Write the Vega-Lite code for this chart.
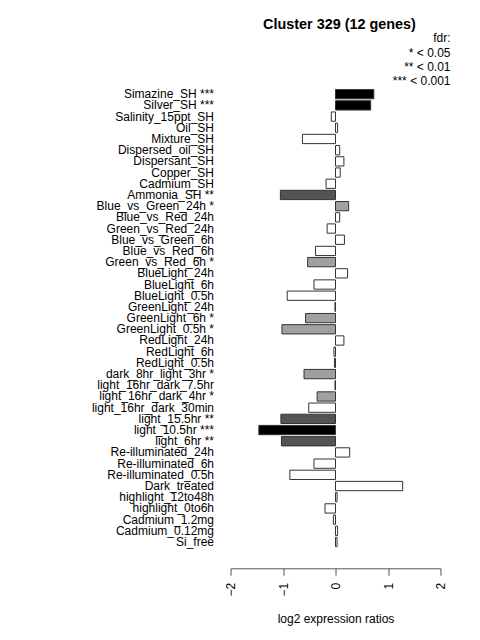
{
  "$schema": "https://vega.github.io/schema/vega-lite/v6.json",
  "autosize": "none",
  "width": 210,
  "height": 459,
  "padding": {"left": 230.5, "top": 88.6, "right": 39.5, "bottom": 92.4},
  "background": "white",
  "title": {
    "text": "Cluster 329 (12 genes)",
    "font": "Liberation Sans",
    "fontSize": 14.4,
    "fontWeight": "bold",
    "color": "black",
    "anchor": "middle",
    "frame": "group",
    "dx": 4,
    "baseline": "alphabetic",
    "offset": -10
  },
  "config": {
    "view": {"stroke": null},
    "font": "Liberation Sans"
  },
  "data": {
    "values": [
      {"label": "Simazine_SH ***", "sig": "***", "value": 0.73},
      {"label": "Silver_SH ***", "sig": "***", "value": 0.67},
      {"label": "Salinity_15ppt_SH", "sig": "none", "value": -0.08},
      {"label": "Oil_SH", "sig": "none", "value": 0.04},
      {"label": "Mixture_SH", "sig": "none", "value": -0.63},
      {"label": "Dispersed_oil_SH", "sig": "none", "value": 0.08},
      {"label": "Dispersant_SH", "sig": "none", "value": 0.16},
      {"label": "Copper_SH", "sig": "none", "value": 0.09},
      {"label": "Cadmium_SH", "sig": "none", "value": -0.18},
      {"label": "Ammonia_SH **", "sig": "**", "value": -1.05},
      {"label": "Blue_vs_Green_24h *", "sig": "*", "value": 0.25},
      {"label": "Blue_vs_Red_24h", "sig": "none", "value": 0.08},
      {"label": "Green_vs_Red_24h", "sig": "none", "value": -0.16},
      {"label": "Blue_vs_Green_6h", "sig": "none", "value": 0.17},
      {"label": "Blue_vs_Red_6h", "sig": "none", "value": -0.38},
      {"label": "Green_vs_Red_6h *", "sig": "*", "value": -0.53},
      {"label": "BlueLight_24h", "sig": "none", "value": 0.23},
      {"label": "BlueLight_6h", "sig": "none", "value": -0.41},
      {"label": "BlueLight_0.5h", "sig": "none", "value": -0.92},
      {"label": "GreenLight_24h", "sig": "none", "value": -0.01},
      {"label": "GreenLight_6h *", "sig": "*", "value": -0.57},
      {"label": "GreenLight_0.5h *", "sig": "*", "value": -1.02},
      {"label": "RedLight_24h", "sig": "none", "value": 0.16},
      {"label": "RedLight_6h", "sig": "none", "value": -0.03},
      {"label": "RedLight_0.5h", "sig": "none", "value": -0.02},
      {"label": "dark_8hr_light_3hr *", "sig": "*", "value": -0.6},
      {"label": "light_16hr_dark_7.5hr", "sig": "none", "value": -0.01},
      {"label": "light_16hr_dark_4hr *", "sig": "*", "value": -0.35},
      {"label": "light_16hr_dark_30min", "sig": "none", "value": -0.51},
      {"label": "light_15.5hr **", "sig": "**", "value": -1.04},
      {"label": "light_10.5hr ***", "sig": "***", "value": -1.46},
      {"label": "light_6hr **", "sig": "**", "value": -1.03},
      {"label": "Re-illuminated_24h", "sig": "none", "value": 0.27},
      {"label": "Re-illuminated_6h", "sig": "none", "value": -0.41},
      {"label": "Re-illuminated_0.5h", "sig": "none", "value": -0.87},
      {"label": "Dark_treated", "sig": "none", "value": 1.28},
      {"label": "highlight_12to48h", "sig": "none", "value": 0.03},
      {"label": "highlight_0to6h", "sig": "none", "value": -0.2},
      {"label": "Cadmium_1.2mg", "sig": "none", "value": -0.04},
      {"label": "Cadmium_0.12mg", "sig": "none", "value": 0.04},
      {"label": "Si_free", "sig": "none", "value": 0.03}
    ]
  },
  "mark": {"type": "bar", "stroke": "#333333", "strokeWidth": 1, "orient": "horizontal"},
  "encoding": {
    "y": {
      "field": "label",
      "type": "nominal",
      "sort": null,
      "scale": {"paddingInner": 0.17, "paddingOuter": 0.085},
      "axis": {
        "title": null,
        "domain": false,
        "ticks": false,
        "labelPadding": 17,
        "labelFontSize": 12,
        "labelColor": "black",
        "labelFont": "Liberation Sans",
        "labelLimit": 300
      }
    },
    "x": {
      "field": "value",
      "type": "quantitative",
      "scale": {"domain": [-2, 2], "nice": false, "zero": false},
      "axis": {
        "title": "log2 expression ratios",
        "titleFont": "Liberation Sans",
        "titleFontSize": 12,
        "titleFontWeight": "normal",
        "titleColor": "black",
        "titlePadding": 18,
        "values": [-2, -1, 0, 1, 2],
        "grid": false,
        "offset": 20.7,
        "domainColor": "#555555",
        "tickColor": "#555555",
        "tickSize": 7,
        "labelAngle": -90,
        "labelPadding": 7,
        "labelFontSize": 12,
        "labelColor": "black",
        "labelFont": "Liberation Sans"
      }
    },
    "x2": {"datum": 0},
    "fill": {
      "field": "sig",
      "type": "nominal",
      "scale": {"domain": ["none", "*", "**", "***"], "range": ["white", "#A0A0A0", "#545454", "black"]},
      "legend": {
        "orient": "none",
        "legendX": 203,
        "legendY": -55.6,
        "title": "fdr:",
        "titleFont": "Liberation Sans",
        "titleFontSize": 12,
        "titleFontWeight": "normal",
        "titleColor": "black",
        "titleAlign": "right",
        "titleAnchor": "end",
        "titlePadding": 1.5,
        "values": ["*", "**", "***"],
        "labelExpr": "datum.label == '*' ? '* < 0.05' : datum.label == '**' ? '** < 0.01' : '*** < 0.001'",
        "labelFont": "Liberation Sans",
        "labelFontSize": 12,
        "labelColor": "black",
        "labelAlign": "right",
        "labelOffset": 0,
        "symbolSize": 0,
        "symbolOpacity": 0,
        "symbolStrokeWidth": 0,
        "rowPadding": 2.4
      }
    }
  }
}
